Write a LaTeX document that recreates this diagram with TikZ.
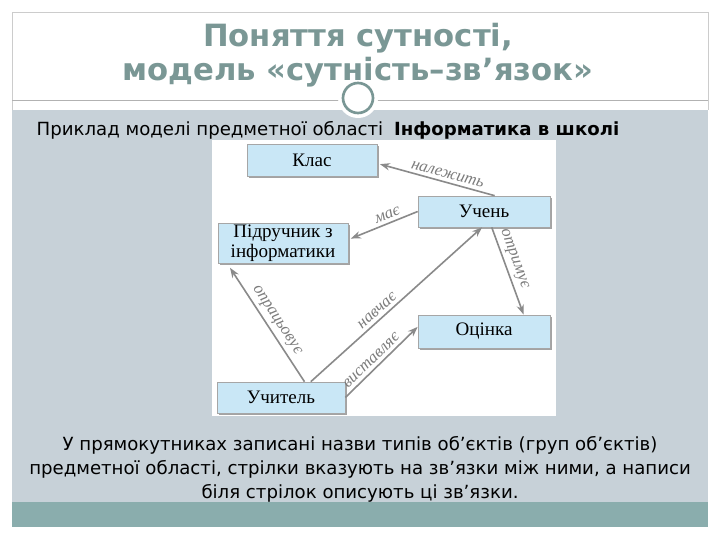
\documentclass[tikz,border=0pt]{standalone}
\usepackage{fontspec}
\setmainfont{DejaVu Sans}
\newfontfamily\bookfont{Liberation Serif}
\usetikzlibrary{arrows.meta,shadows,positioning}
\definecolor{titleteal}{HTML}{7A9795}
\definecolor{slidegray}{HTML}{C7D1D8}
\definecolor{bandteal}{HTML}{8AADAD}
\definecolor{boxblue}{HTML}{C9E7F6}
\definecolor{arrowgray}{HTML}{8A8A8A}

\begin{document}
\begin{tikzpicture}[x=0.75pt,y=-0.75pt]
		\tikzstyle{every node}=[font=\fontsize{13.6}{18}\selectfont]
		\tikzstyle{entity}=[draw=gray!70, fill=boxblue, line width=0.5pt, drop shadow={shadow xshift=1.2pt, shadow yshift=-1.2pt, fill=gray!80!black, opacity=0.6}, font=\bookfont\fontsize{14.3}{15}\selectfont, align=center, inner sep=0pt]
		\tikzstyle{rel}=[line width=1.2pt, draw=arrowgray, -{Stealth[length=7.5pt,width=5.5pt]}]
		\tikzstyle{verb}=[font=\bookfont\itshape\fontsize{12.5}{13}\selectfont, text=arrowgray!90!black, sloped, above, inner sep=2.5pt]
		\useasboundingbox (0,0) rectangle (720,540);
		\fill [white] (0,0) rectangle (720,540);
		\fill [slidegray] (12,110) rectangle (708,502);
		\fill [bandteal] (12,502) rectangle (708,527);
		\draw [gray!40, line width=0.6pt] (12,110) -- (12,12) -- (708,12) -- (708,110);
		\draw [gray!60, line width=0.6pt] (12,100) -- (708,100);
		\fill [white] (358,98) circle (15pt);
		\draw [titleteal, line width=2pt] (358,98) circle (11.25pt);
		\node [font=\bfseries\fontsize{23}{25.5}\selectfont, text=titleteal, align=center] (title) at (358,55) {Поняття сутності,\\модель «сутність–зв’язок»};
		\node [anchor=west] (example) at (32,130) {Приклад моделі предметної області\hspace{0.6em}\textbf{Інформатика в школі}};
		\fill [white] (212,140) rectangle (556,416);
		\node [entity, minimum width=97.5pt, minimum height=24pt] (klas) at (312,160) {Клас};
		\node [entity, minimum width=99pt, minimum height=23.25pt] (uchen) at (484,211.5) {Учень};
		\node [entity, minimum width=97.5pt, minimum height=30pt] (pidr) at (283,243) {Підручник з\\інформатики};
		\node [entity, minimum width=99pt, minimum height=24.75pt] (ocinka) at (484,331.5) {Оцінка};
		\node [entity, minimum width=96pt, minimum height=23.25pt] (uchytel) at (281,397.5) {Учитель};
		\draw [rel, shorten >=2pt] (uchen.56) -- node [verb, pos=0.42] {належить} (klas.-3);
		\draw [rel, shorten >=2pt] (uchen.west) -- node [verb, pos=0.39] {має} (pidr.3);
		\draw [rel] (uchen.-64) -- node [verb, pos=0.4] {отримує} (ocinka.23);
		\draw [rel, shorten >=4pt] (uchytel.34) -- node [verb, pos=0.47] {опрацьовує} (pidr.-160);
		\draw [rel] (uchytel.28) -- node [verb, pos=0.42] {навчає} (uchen.-97);
		\draw [rel] (uchytel.east) -- node [verb, pos=0.44] {виставляє} (ocinka.176);
		\node [align=center] (note) at (360,469) {У прямокутниках записані назви типів об’єктів (груп об’єктів)\\предметної області, стрілки вказують на зв’язки між ними, а написи\\біля стрілок описують ці зв’язки.};
\end{tikzpicture}
\end{document}
